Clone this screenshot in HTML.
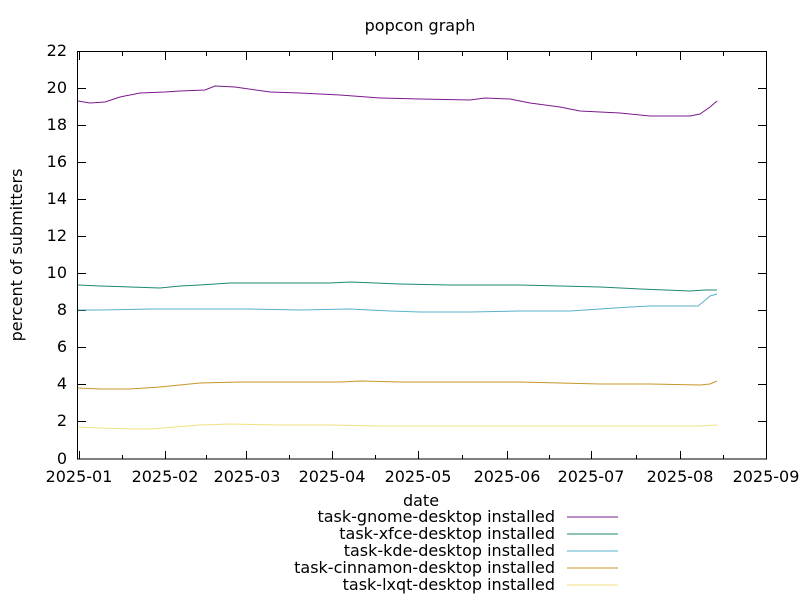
<!DOCTYPE html>
<html><head><meta charset="utf-8"><style>body{margin:0;background:#fff}svg{display:block}text{font-family:"DejaVu Sans","Liberation Sans",sans-serif;font-size:16px;fill:#000}</style></head><body>
<svg width="800" height="600" xmlns="http://www.w3.org/2000/svg">
<rect width="800" height="600" fill="#fff"/>
<text x="420" y="31" text-anchor="middle" font-size="15">popcon graph</text>
<g stroke="#000" stroke-width="1" fill="none">
<rect x="77.5" y="51.5" width="689" height="407.5"/>
</g>
<g stroke="#000" stroke-width="1">
<path d="M78 88.5h8M78 125.5h8M78 162.5h8M78 199.5h8M78 236.5h8M78 273.5h8M78 310.5h8M78 347.5h8M78 384.5h8M78 421.5h8M78 51.5h8
M766 88.5h-8M766 125.5h-8M766 162.5h-8M766 199.5h-8M766 236.5h-8M766 273.5h-8M766 310.5h-8M766 347.5h-8M766 384.5h-8M766 421.5h-8
M79.5 459v-8M165.5 459v-8M246.5 459v-8M332.5 459v-8M418.5 459v-8M507.5 459v-8M591.5 459v-8M680.5 459v-8
M79.5 52v8M165.5 52v8M246.5 52v8M332.5 52v8M418.5 52v8M507.5 52v8M591.5 52v8M680.5 52v8
M122.5 459v-4M206.5 459v-4M289.5 459v-4M375.5 459v-4M462.5 459v-4M549.5 459v-4M636.5 459v-4M723.5 459v-4
M122.5 52v4M206.5 52v4M289.5 52v4M375.5 52v4M462.5 52v4M549.5 52v4M636.5 52v4M723.5 52v4"/>
</g>
<g text-anchor="end">
<text x="67" y="56">22</text><text x="67" y="93">20</text><text x="67" y="130">18</text><text x="67" y="167">16</text><text x="67" y="204">14</text><text x="67" y="241">12</text><text x="67" y="278">10</text><text x="67" y="315">8</text><text x="67" y="352">6</text><text x="67" y="389">4</text><text x="67" y="426">2</text><text x="67" y="464">0</text>
</g>
<g text-anchor="middle">
<text x="79" y="482">2025-01</text><text x="165" y="482">2025-02</text><text x="247" y="482">2025-03</text><text x="332" y="482">2025-04</text><text x="418" y="482">2025-05</text><text x="507" y="482">2025-06</text><text x="591" y="482">2025-07</text><text x="680" y="482">2025-08</text><text x="766" y="482">2025-09</text>
<text x="421" y="506">date</text>
</g>
<text transform="translate(22,255) rotate(-90)" text-anchor="middle">percent of submitters</text>
<g fill="none" stroke-width="1">
<polyline stroke="#7a1a8c" points="78,101 90,103 105,102 120,97 140,93 165,92 180,91 205,90 215,86 235,87 270,92 300,93 340,95 380,98 420,99 470,100 485,98 510,99 530,103 560,107 580,111 620,113 650,116 690,116 700,114 710,107 717,101"/>
<polyline stroke="#1e8a72" points="78,285 100,286 130,287 160,288 180,286 200,285 230,283 280,283 330,283 350,282 400,284 450,285 520,285 560,286 600,287 640,289 690,291 705,290 717,290"/>
<polyline stroke="#5ab0cc" points="78,310 100,310 150,309 200,309 250,309 300,310 350,309 390,311 420,312 470,312 520,311 570,311 600,309 630,307 650,306 698,306 703,302 710,296 717,294"/>
<polyline stroke="#c8962a" points="78,388 100,389 130,389 160,387 180,385 200,383 240,382 300,382 340,382 360,381 400,382 450,382 520,382 560,383 600,384 650,384 700,385 710,384 717,381"/>
<polyline stroke="#f0e080" points="78,427 100,428 130,429 150,429 175,427 200,425 230,424 280,425 330,425 380,426 450,426 520,426 580,426 640,426 700,426 717,425"/>
</g>
<g text-anchor="end">
<text x="555" y="522">task-gnome-desktop installed</text>
<text x="555" y="539">task-xfce-desktop installed</text>
<text x="555" y="556">task-kde-desktop installed</text>
<text x="555" y="573">task-cinnamon-desktop installed</text>
<text x="555" y="590">task-lxqt-desktop installed</text>
</g>
<g stroke-width="1">
<line x1="567" x2="618" y1="517" y2="517" stroke="#7a1a8c"/>
<line x1="567" x2="618" y1="534" y2="534" stroke="#1e8a72"/>
<line x1="567" x2="618" y1="551" y2="551" stroke="#5ab0cc"/>
<line x1="567" x2="618" y1="568" y2="568" stroke="#c8962a"/>
<line x1="567" x2="618" y1="585" y2="585" stroke="#f0e080"/>
</g>
</svg>
</body></html>
